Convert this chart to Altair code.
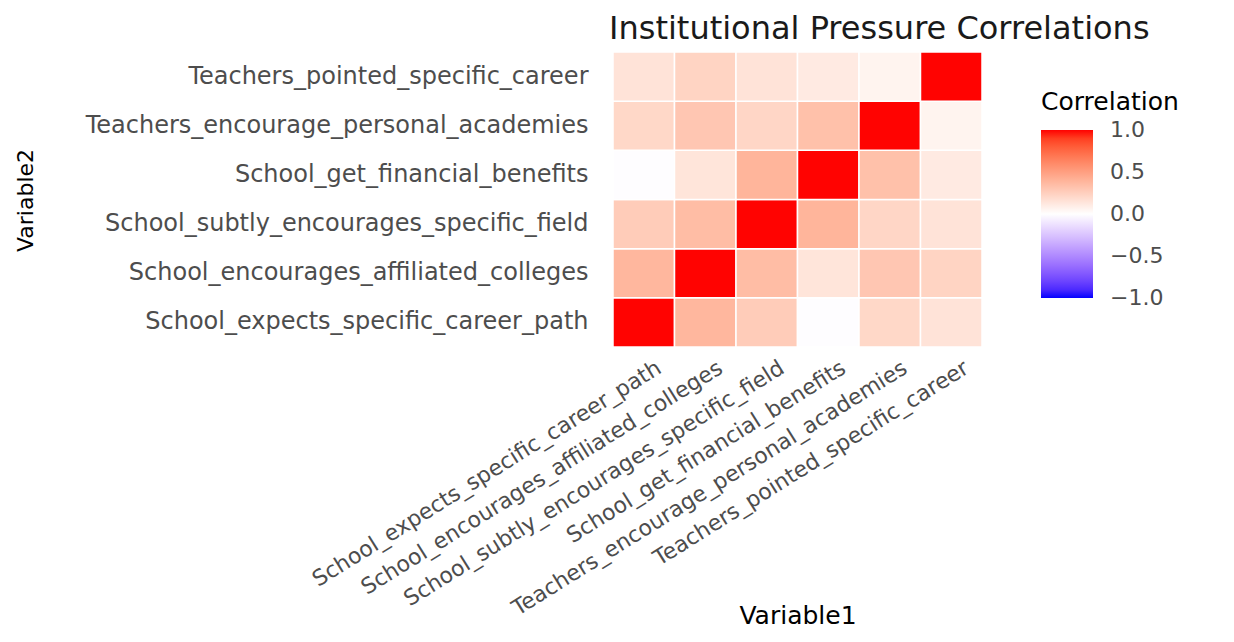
import altair as alt
import pandas as pd

variables = [
    "School_expects_specific_career_path",
    "School_encourages_affiliated_colleges",
    "School_subtly_encourages_specific_field",
    "School_get_financial_benefits",
    "Teachers_encourage_personal_academies",
    "Teachers_pointed_specific_career",
]

# One row of correlations per Variable2; columns follow `variables` (Variable1)
r_secp = [1.00, 0.38, 0.27, -0.01, 0.21, 0.15]
r_seac = [0.38, 1.00, 0.35, 0.14, 0.30, 0.23]
r_ssesf = [0.27, 0.35, 1.00, 0.39, 0.22, 0.15]
r_sgfb = [-0.01, 0.14, 0.39, 1.00, 0.33, 0.11]
r_tepa = [0.21, 0.30, 0.22, 0.33, 1.00, 0.06]
r_tpsc = [0.15, 0.23, 0.15, 0.11, 0.06, 1.00]

legend_values = [-1.0, -0.5, 0.0, 0.5, 1.0]

rows = [r_secp, r_seac, r_ssesf, r_sgfb, r_tepa, r_tpsc]
records = []
for v2, row in zip(variables, rows):
    for v1, val in zip(variables, row):
        records.append({"Variable1": v1, "Variable2": v2, "Correlation": val})
df = pd.DataFrame(records)

FONT = "DejaVu Sans"
LABEL_COLOR = "#4d4d4d"

chart = (
    alt.Chart(df)
    .mark_rect(stroke="white", strokeWidth=1.5)
    .encode(
        x=alt.X(
            "Variable1:N",
            sort=variables,
            title="Variable1",
            axis=alt.Axis(
                labelAngle=-32,
                labelAlign="right",
                labelBaseline="top",
                labelPadding=10,
                labelOffset=10,
                labelFont=FONT,
                labelFontSize=22,
                labelColor=LABEL_COLOR,
                labelLimit=1000,
                ticks=False,
                domain=False,
                grid=False,
                titleFont=FONT,
                titleFontSize=25,
                titleFontWeight="normal",
                titleColor="#000000",
                titleY=276,
                titleBaseline="alphabetic",
            ),
        ),
        y=alt.Y(
            "Variable2:N",
            sort=variables[::-1],
            title="Variable2",
            axis=alt.Axis(
                labelPadding=25,
                labelFont=FONT,
                labelFontSize=24,
                labelColor=LABEL_COLOR,
                labelLimit=1000,
                ticks=False,
                domain=False,
                grid=False,
                titleFont=FONT,
                titleFontSize=22,
                titleFontWeight="normal",
                titleColor="#000000",
                titleAngle=270,
                titleX=-588,
                titleY=148,
                titleAlign="center",
                titleBaseline="middle",
            ),
        ),
        color=alt.Color(
            "Correlation:Q",
            scale=alt.Scale(
                domain=[-1.002, 0, 1.002],
                range=["#0000FF", "#FFFFFF", "#FF0000"],
                interpolate="lab",
            ),
            legend=alt.Legend(
                orient="none",
                legendX=428,
                legendY=38,
                title="Correlation",
                titleFont=FONT,
                titleFontSize=25,
                titleFontWeight="normal",
                titleColor="#000000",
                titlePadding=15,
                titleLimit=1000,
                gradientLength=168,
                gradientThickness=52,
                gradientStrokeWidth=0,
                labelOffset=17,
                labelFont=FONT,
                labelFontSize=22,
                labelColor=LABEL_COLOR,
                labelOverlap=False,
                values=legend_values,
                format=".1f",
                direction="vertical",
            ),
        ),
    )
    .properties(
        width=369,
        height=295,
        title=alt.TitleParams(
            "Institutional Pressure Correlations",
            anchor="start",
            frame="group",
            font=FONT,
            fontSize=32,
            fontWeight="normal",
            color="#1a1a1a",
            offset=5,
            dx=-4,
        ),
        padding={"left": 605, "top": 44, "right": 240, "bottom": 283},
        autosize=alt.AutoSizeParams(type="none"),
    )
    .configure_view(stroke=None)
)

chart.save("out.html", embed_options={"renderer": "svg", "actions": False})
